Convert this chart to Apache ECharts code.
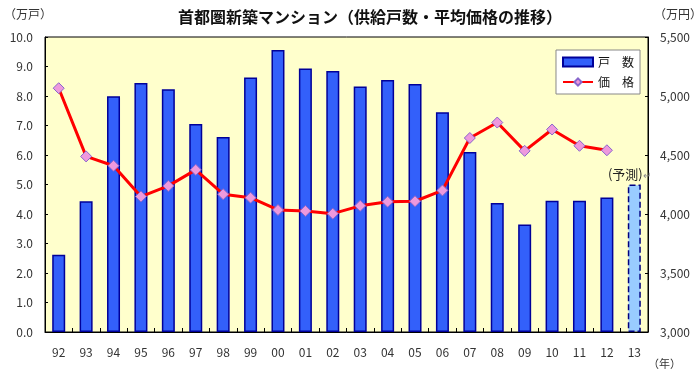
<!DOCTYPE html>
<html>
<head>
<meta charset="utf-8">
<script src="https://cdn.jsdelivr.net/npm/echarts@6/dist/echarts.min.js"></script>
<style>
html,body{margin:0;padding:0;background:#fff;}
#c{width:700px;height:380px;}
</style>
</head>
<body>
<div id="c"></div>
<script>
var years = ['92','93','94','95','96','97','98','99','00','01','02','03','04','05','06','07','08','09','10','11','12','13'];
var supply = [2.62, 4.43, 7.99, 8.44, 8.23, 7.05, 6.61, 8.63, 9.56, 8.93, 8.85, 8.32, 8.54, 8.41, 7.45, 6.10, 4.37, 3.64, 4.45, 4.45, 4.56, 5.00];
var forecastIndex = 21;
var price = [5066, 4488, 4409, 4148, 4238, 4374, 4168, 4138, 4034, 4026, 4003, 4069, 4104, 4108, 4200, 4644, 4775, 4535, 4716, 4578, 4540, null];
var leftTicks = ['0.0','1.0','2.0','3.0','4.0','5.0','6.0','7.0','8.0','9.0','10.0'];
var rightTicks = ['3,000','3,500','4,000','4,500','5,000','5,500'];
var title = '首都圏新築マンション（供給戸数・平均価格の推移）';
var seriesNames = ['戸　数', '価　格'];
var forecastText = '(予測)';

var font = '"Noto Sans CJK JP", "Noto Sans", sans-serif';
var chart = echarts.init(document.getElementById('c'));

var barData = supply.map(function (v, i) {
  if (i === forecastIndex) {
    return {
      value: v,
      itemStyle: { color: '#99CCFF', borderColor: '#000080', borderType: 'dashed', borderWidth: 1.5 },
      label: {
        show: true, position: 'top', distance: 4, offset: [-5, 0],
        formatter: '{a|' + forecastText + '}{b|↵}',
        rich: {
          a: { color: '#222', fontSize: 13, fontFamily: font },
          b: { color: '#888', fontSize: 10, fontFamily: font, verticalAlign: 'bottom' }
        }
      }
    };
  }
  return v;
});

chart.setOption({
  animation: false,
  backgroundColor: '#ffffff',
  title: {
    text: title, left: 173, top: 4,
    textStyle: { fontSize: 16, fontWeight: 'bold', color: '#111', fontFamily: font }
  },
  graphic: [
    { type: 'text', left: 4, top: 8, style: { text: '（万戸）', fill: '#333', font: '12px ' + font } },
    { type: 'text', left: 654, top: 8, style: { text: '（万円）', fill: '#333', font: '12px ' + font } },
    { type: 'text', left: 648, top: 358, style: { text: '（年）', fill: '#333', font: '11px ' + font } }
  ],
  legend: {
    right: 60, top: 50, orient: 'vertical', itemGap: 8,
    backgroundColor: '#ffffff', borderColor: '#888', borderWidth: 1, padding: [6, 6, 6, 6],
    itemWidth: 30, itemHeight: 9,
    textStyle: { fontSize: 12, color: '#111', fontFamily: font },
    data: [
      { name: seriesNames[0], icon: 'rect' },
      { name: seriesNames[1] }
    ]
  },
  grid: { left: 45, right: 52, top: 37, bottom: 48, show: true, backgroundColor: '#FFFFCC', borderColor: '#000', borderWidth: 1 },
  xAxis: {
    type: 'category', data: years,
    axisLine: { show: true, lineStyle: { color: '#000', width: 1 } },
    axisTick: { show: true, inside: true, length: 4, lineStyle: { color: '#000' } },
    axisLabel: { color: '#333', fontSize: 12, margin: 14, fontFamily: font },
    splitLine: { show: false }
  },
  yAxis: [
    {
      type: 'value', min: 0, max: 10, interval: 1,
      axisLine: { show: true, lineStyle: { color: '#000' } },
      axisTick: { show: true, inside: true, length: 3, lineStyle: { color: '#000' } },
      axisLabel: { color: '#333', fontSize: 12, margin: 12, fontFamily: font, formatter: function (v) { return leftTicks[Math.round(v)]; } },
      splitLine: { show: false }
    },
    {
      type: 'value', min: 3000, max: 5500, interval: 500,
      axisLine: { show: true, lineStyle: { color: '#000' } },
      axisTick: { show: true, inside: true, length: 3, lineStyle: { color: '#000' } },
      axisLabel: { color: '#333', fontSize: 12, margin: 12, fontFamily: font, formatter: function (v) { return rightTicks[Math.round((v - 3000) / 500)]; } },
      splitLine: { show: false }
    }
  ],
  series: [
    {
      name: seriesNames[0], type: 'bar', yAxisIndex: 0, data: barData, barWidth: 13,
      itemStyle: { color: '#3360FA', borderColor: '#000099', borderWidth: 1.5 }
    },
    {
      name: seriesNames[1], type: 'line', yAxisIndex: 1, data: price,
      symbol: 'diamond', symbolSize: 11, showAllSymbol: true,
      lineStyle: { color: '#FF0000', width: 3 },
      itemStyle: { color: '#EE99DD', borderColor: '#8866CC', borderWidth: 1 }
    }
  ]
});
</script>
</body>
</html>
